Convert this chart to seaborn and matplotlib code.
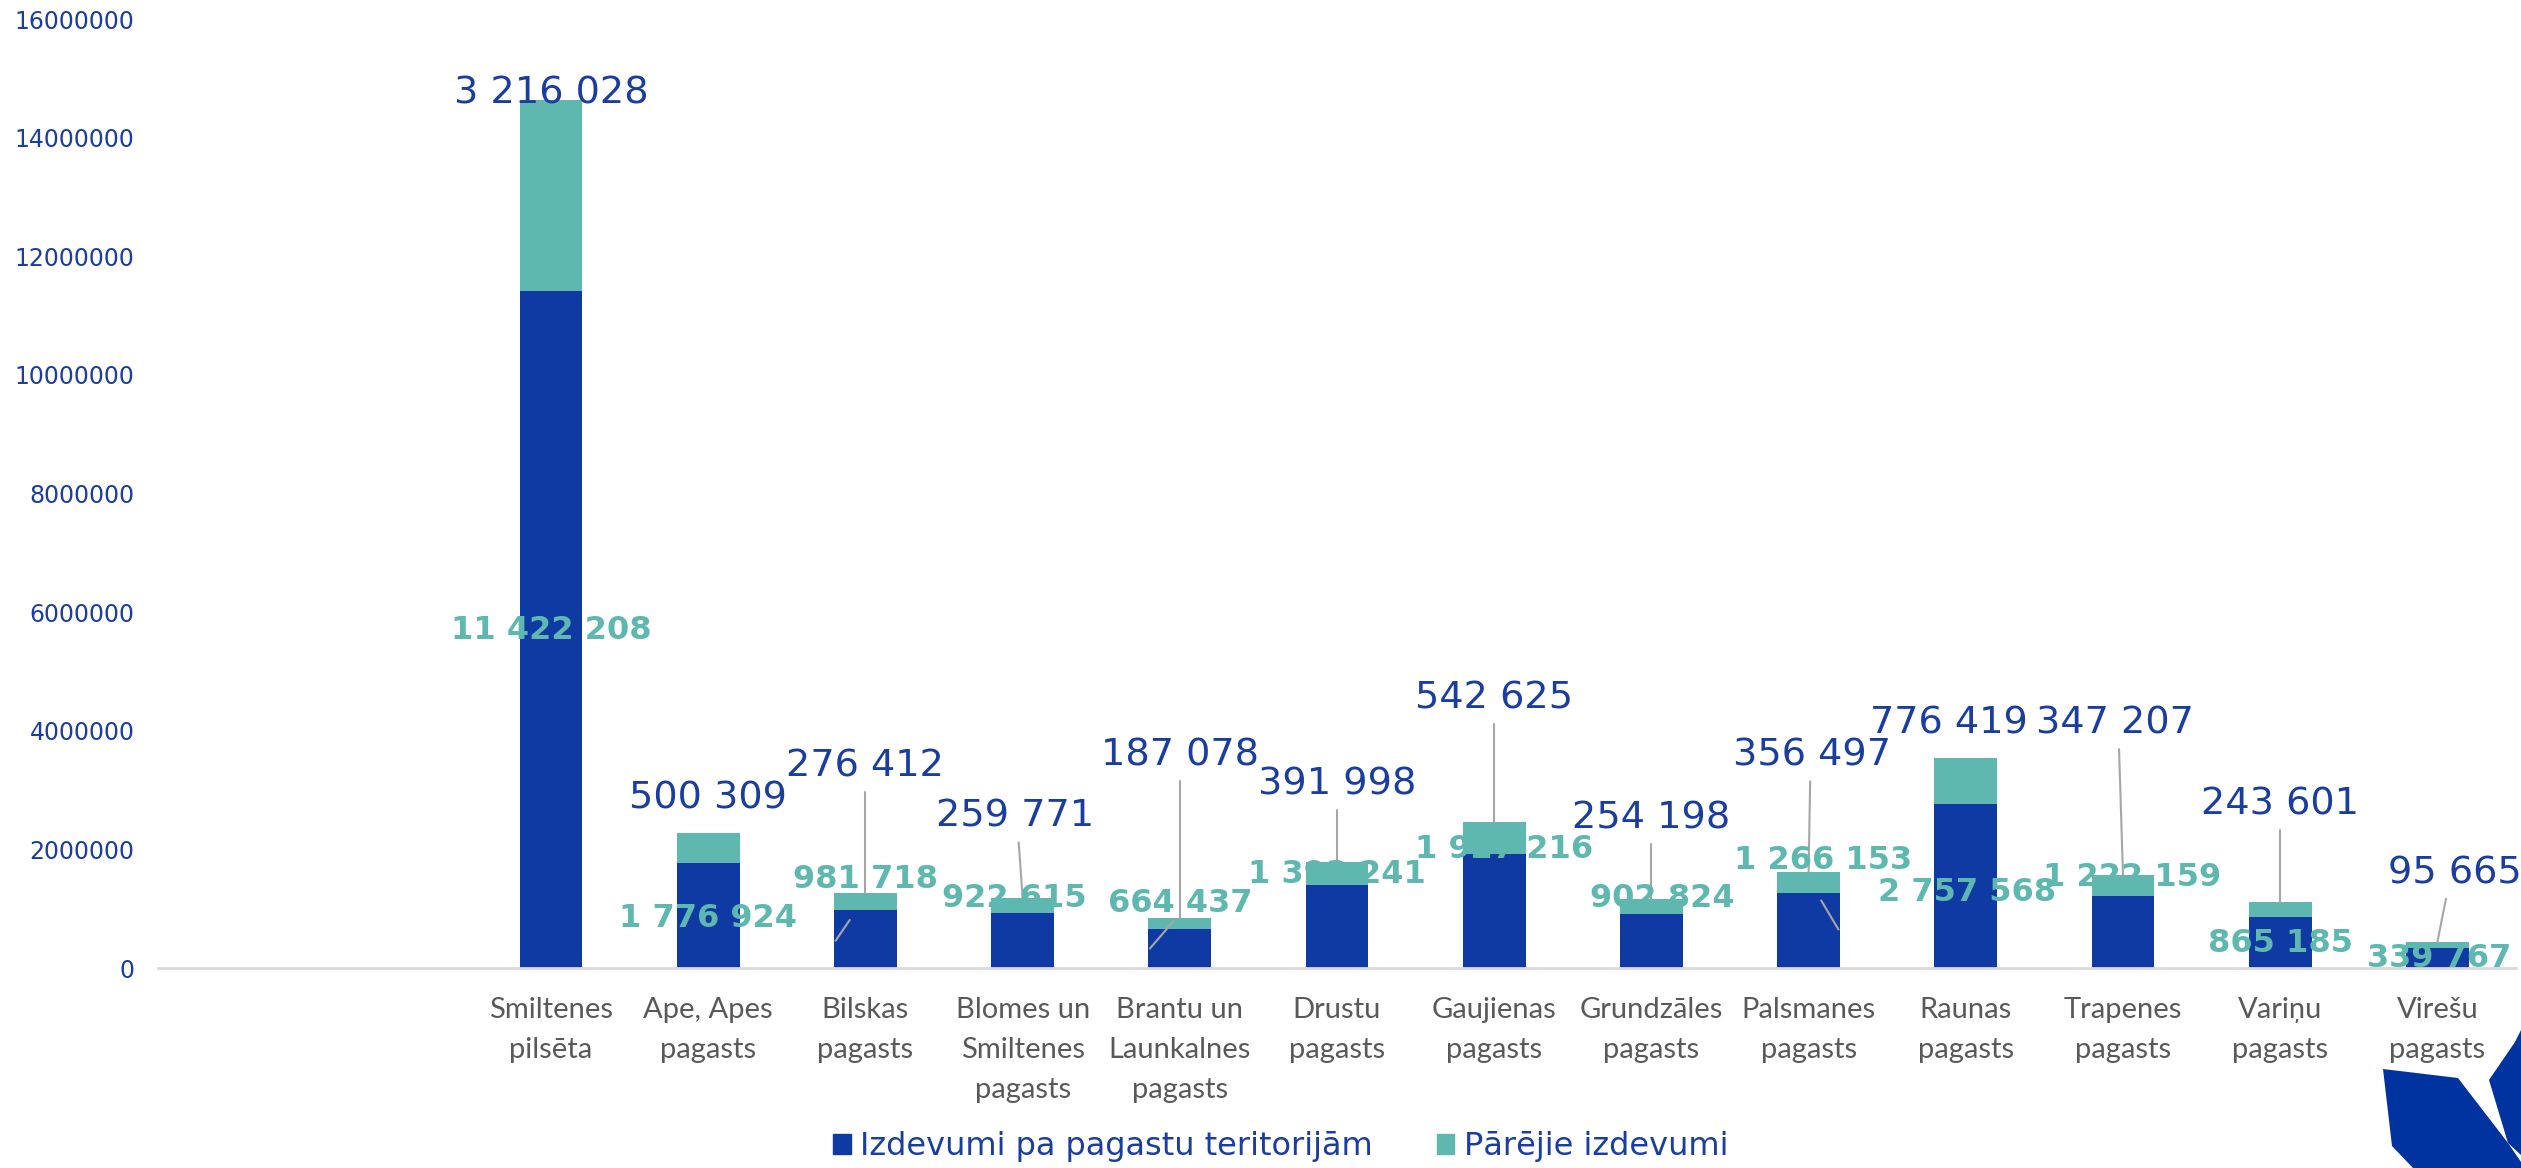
import pandas as pd
import seaborn as sns
import matplotlib.pyplot as plt
from matplotlib.patches import Rectangle, Polygon

# Data (EUR)
blank_slots = ['', ' ']
categories = [
    'Smiltenes\npilsēta', 'Ape, Apes\npagasts', 'Bilskas\npagasts',
    'Blomes un\nSmiltenes\npagasts', 'Brantu un\nLaunkalnes\npagasts',
    'Drustu\npagasts', 'Gaujienas\npagasts', 'Grundzāles\npagasts',
    'Palsmanes\npagasts', 'Raunas\npagasts', 'Trapenes\npagasts',
    'Variņu\npagasts', 'Virešu\npagasts',
]
izdevumi_teritorijam = [
    11422208, 1776924, 981718, 922615, 664437, 1393241, 1927216,
    902824, 1266153, 2757568, 1222159, 865185, 339767,
]
parejie_izdevumi = [
    3216028, 500309, 276412, 259771, 187078, 391998, 542625,
    254198, 356497, 776419, 347207, 243601, 95665,
]
y_ticks = [0, 2000000, 4000000, 6000000, 8000000, 10000000, 12000000, 14000000, 16000000]

# label layout (y in millions, x offset in category units)
top_label_y = [14.74, 2.85, 3.39, 2.55, 3.58, 3.09, 4.55, 2.52, 3.58, 4.12, 4.12, 2.76, 1.60]
top_label_dx = [0, 0, 0, -0.05, 0, 0, 0, 0, 0.02, -0.11, -0.05, 0, 0.11]
low_label_y = [5.69, 0.84, 1.49, 1.17, 1.08, 1.57, 2.0, 1.17, 1.82, 1.27, 1.52, 0.41, 0.16]
low_label_dx = [0, 0, 0, -0.05, 0, 0, 0.06, 0.07, 0.09, 0.01, 0.06, 0, 0.01]
low_leaders = {
    2: (-0.10, 0.81, -0.19, 0.46),
    4: (-0.04, 0.79, -0.19, 0.33),
    8: (0.08, 1.14, 0.19, 0.65),
}

DARK = '#0F3AA3'
TEAL = '#5EB8B0'
TEXT_BLUE = '#1A3DA0'
GRAY = '#595959'
LEADER = '#A6A6A6'

df = pd.DataFrame({
    'cat': categories,
    'dark': izdevumi_teritorijam,
    'other': parejie_izdevumi,
})
df['total'] = df['dark'] + df['other']
order = blank_slots + categories

sns.set_style('white')
plt.rcParams['font.family'] = ['DejaVu Sans']

fig = plt.figure(figsize=(25.21, 11.68), dpi=100)
ax = fig.add_axes([0.0627, 0.1712, 0.9353, 0.8125])

sns.barplot(data=df, x='cat', y='total', order=order, color=TEAL,
            width=0.4, saturation=1, linewidth=0, ax=ax)
sns.barplot(data=df, x='cat', y='dark', order=order, color=DARK,
            width=0.4, saturation=1, linewidth=0, ax=ax)

ax.set_xlim(-0.5, len(order) - 0.5)
ax.set_ylim(0, 16000000)
ax.set_yticks(y_ticks)
ax.set_yticklabels([str(v) for v in y_ticks], color=TEXT_BLUE, fontsize=17)
ax.set_xticks(range(len(order)))
ax.set_xticklabels(order, color=GRAY, fontsize=21, family='Lato', linespacing=1.65)
ax.tick_params(axis='both', length=0)
ax.tick_params(axis='y', pad=17)
ax.tick_params(axis='x', pad=21)
ax.set_xlabel('')
ax.set_ylabel('')
for side in ['top', 'right', 'left']:
    ax.spines[side].set_visible(False)
ax.spines['bottom'].set_color('#D9D9D9')
ax.spines['bottom'].set_linewidth(2)


def fmt(v):
    return f'{v:,}'.replace(',', ' ')


off = len(blank_slots)
for i, row in df.iterrows():
    x = i + off
    ty = top_label_y[i] * 1e6
    tx = x + top_label_dx[i]
    if ty - 0.43e6 > row['total'] + 0.3e6:
        ax.plot([x + top_label_dx[i] * 0.5, x], [ty - 0.43e6, row['total']],
                color=LEADER, lw=1.5, zorder=2)
    ax.text(tx, ty, fmt(row['other']), ha='center', va='center',
            color=TEXT_BLUE, fontsize=27.5, zorder=5)
    if i in low_leaders:
        x0, y0, x1, y1 = low_leaders[i]
        ax.plot([x + x0, x + x1], [y0 * 1e6, y1 * 1e6], color=LEADER, lw=1.5, zorder=4)
    ax.text(x + low_label_dx[i], low_label_y[i] * 1e6, fmt(row['dark']),
            ha='center', va='center', color=TEAL, fontsize=23,
            fontweight='bold', zorder=5)

handles = [Rectangle((0, 0), 1, 1, color=DARK), Rectangle((0, 0), 1, 1, color=TEAL)]
fig.legend(handles, ['Izdevumi pa pagastu teritorijām', 'Pārējie izdevumi'],
           loc='center', bbox_to_anchor=(0.508, 0.018), ncol=2, frameon=False,
           fontsize=23, labelcolor=TEXT_BLUE, handlelength=0.55,
           handleheight=0.6, handletextpad=0.3, columnspacing=2.0)

# corner logo
W, H = 2521, 1168
logo_left = [(2383, 1069), (2458, 1078), (2508, 1143), (2521, 1162), (2521, 1168),
             (2413, 1168), (2392, 1146)]
logo_right = [(2515, 1042), (2521, 1030), (2521, 1155), (2508, 1143), (2489, 1080)]
for pts in (logo_left, logo_right):
    fig.patches.append(Polygon([(px / W, 1 - py / H) for px, py in pts], closed=True,
                               transform=fig.transFigure, color='#0033A0', lw=0))

fig.savefig('out.png', dpi=100)
